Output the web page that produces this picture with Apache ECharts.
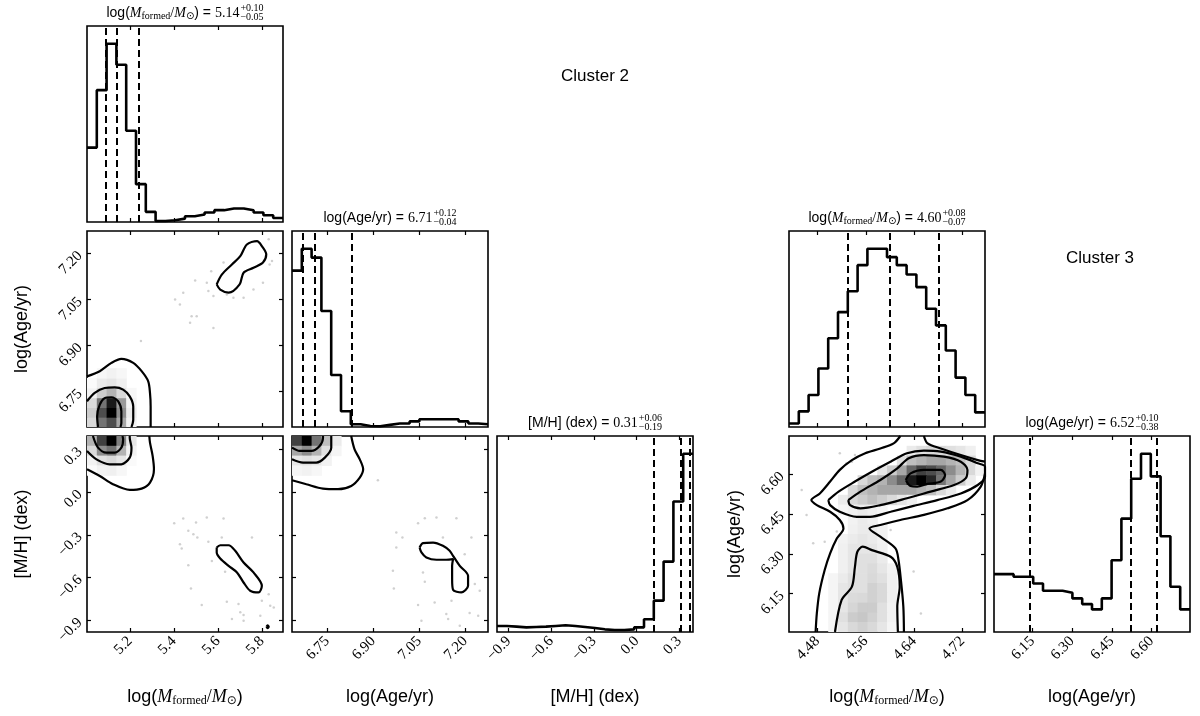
<!DOCTYPE html>
<html><head><meta charset="utf-8">
<script src="https://cdn.jsdelivr.net/npm/echarts@6/dist/echarts.min.js"></script>
<style>html,body{margin:0;padding:0;background:#fff}#c{width:1200px;height:716px}</style>
</head><body><div id="c"></div>
<script>
// ---------- axis ranges & ticks ----------
const c2MassRange=[5.005,5.895];
const c2AgeRange=[6.635,7.274];
const c2MetRange=[-0.982,0.396];
const c3MassRange=[4.433,4.757];
const c3AgeRange=[6.005,6.745];

const c2MassTicks=[5.2,5.4,5.6,5.8];
const c2AgeTicks=[6.75,6.90,7.05,7.20];
const c2MetTicks=[-0.9,-0.6,-0.3,0.0,0.3];
const c3MassTicks=[4.48,4.56,4.64,4.72];
const c3AgeTicks=[6.15,6.30,6.45,6.60];

// ---------- 1D histograms (20 bins over the axis range) ----------
const c2MassHist=[220,390,527,465,270,112,30,3,5,10,17,22,28,35,40,40,35,28,20,12];
const c2AgeHist=[445,507,482,330,148,45,8,3,2,6,10,10,16,22,22,22,22,16,10,8];
const c2MetHist=[18,16,14,15,16,18,20,18,15,12,8,6,6,8,14,38,94,211,391,534];
const c3MassHist=[10,45,92,168,255,330,390,465,512,512,488,465,438,402,340,292,220,142,92,42];
const c3AgeHist=[174,174,166,166,146,124,124,118,101,84,68,101,216,341,461,536,468,288,136,68];

// quantiles (16, 50, 84)
const c2MassQ=[5.09,5.14,5.24];
const c2AgeQ=[6.67,6.71,6.83];
const c2MetQ=[0.12,0.31,0.37];
const c3MassQ=[4.53,4.60,4.68];
const c3AgeQ=[6.14,6.52,6.62];

// title numbers
const c2MassTitle=['5.14','+0.10','\u22120.05'];
const c2AgeTitle=['6.71','+0.12','\u22120.04'];
const c2MetTitle=['0.31','+0.06','\u22120.19'];
const c3MassTitle=['4.60','+0.08','\u22120.07'];
const c3AgeTitle=['6.52','+0.10','\u22120.38'];

// ---------- 2D histogram shading: [rowIndex, firstColIndex, darkness...] ----------
const c2MassAgeHeat=[[0,0,[0.15,0.55,0.7,0.35,0.05]],[1,0,[0.2,0.7,1.0,0.45,0.08]],[2,0,[0.15,0.55,0.9,0.4,0.05]],[3,0,[0.05,0.2,0.3,0.15,0.03]],[4,0,[0.02,0.08,0.1,0.06]],[5,0,[0,0.03,0.05,0.03]]];
const c2MassMetHeat=[[19,0,[0.3,0.75,1.0,0.5,0.1]],[18,0,[0.15,0.45,0.55,0.3,0.05]],[17,0,[0.05,0.12,0.15,0.1,0.02]],[16,0,[0.02,0.05,0.06,0.03]]];
const c2AgeMetHeat=[[19,0,[0.75,1.0,0.55,0.25,0.08]],[18,0,[0.35,0.45,0.3,0.12,0.04]],[17,0,[0.1,0.12,0.1,0.05]],[16,0,[0.04,0.05,0.03]]];
const c3MassAgeHeat=[
 [18,12,[0.08,0.12,0.15,0.15,0.12,0.1,0.06]],
 [17,11,[0.12,0.25,0.3,0.35,0.35,0.3,0.25,0.15]],
 [16,9,[0.1,0.2,0.35,0.6,0.75,0.7,0.6,0.45,0.3,0.15,0.05]],
 [15,7,[0.15,0.25,0.3,0.45,0.6,0.9,1.0,0.85,0.55,0.35,0.2,0.08]],
 [14,6,[0.15,0.25,0.3,0.35,0.35,0.35,0.35,0.3,0.25,0.15,0.08]],
 [13,5,[0.08,0.15,0.2,0.25,0.2,0.15,0.1,0.06]],
 [12,5,[0.04,0.06,0.08,0.06,0.04]],
 [11,6,[0.05,0.08,0.06]],
 [10,6,[0.06,0.08,0.08,0.05]],
 [9,5,[0.05,0.08,0.1,0.08,0.05]],
 [8,5,[0.06,0.1,0.1,0.1,0.06]],
 [7,5,[0.06,0.1,0.12,0.12,0.08]],
 [6,5,[0.06,0.1,0.12,0.14,0.1,0.05]],
 [5,4,[0.04,0.08,0.12,0.12,0.15,0.12,0.06]],
 [4,4,[0.04,0.1,0.12,0.12,0.18,0.15,0.06]],
 [3,4,[0.04,0.1,0.14,0.15,0.18,0.15,0.06]],
 [2,4,[0.04,0.1,0.16,0.2,0.2,0.12,0.05]],
 [1,4,[0.04,0.12,0.2,0.22,0.18,0.12,0.05]],
 [0,4,[0.04,0.1,0.15,0.18,0.15,0.1,0.04]]
];

// ---------- sparse samples ----------
const c2MassAgePts=[[5.496,7.113],[5.549,7.105],[5.569,7.143],[5.556,7.078],[5.579,7.062],[5.625,7.171],[5.640,7.067],[5.670,7.056],[5.716,7.056],[5.761,7.083],[5.804,7.105],[5.834,7.165],[5.845,7.176],[5.830,7.247],[5.405,7.051],[5.427,7.034],[5.442,7.073],[5.480,6.996],[5.503,6.996],[5.473,6.975],[5.579,6.958],[5.250,6.915]];
const c2MassMetPts=[[5.401,-0.217],[5.442,-0.184],[5.500,-0.212],[5.549,-0.177],[5.625,-0.184],[5.465,-0.271],[5.488,-0.294],[5.506,-0.318],[5.556,-0.348],[5.617,-0.318],[5.754,-0.318],[5.427,-0.365],[5.435,-0.395],[5.465,-0.512],[5.572,-0.482],[5.632,-0.559],[5.477,-0.676],[5.526,-0.793],[5.640,-0.769],[5.693,-0.786],[5.701,-0.844],[5.716,-0.863],[5.799,-0.762],[5.830,-0.716],[5.837,-0.797],[5.853,-0.809],[5.663,-0.891],[5.716,-0.903],[5.792,-0.868]];
const c2AgeMetPts=[[6.915,0.085],[6.975,-0.283],[6.995,-0.318],[6.975,-0.388],[7.046,-0.217],[7.068,-0.182],[7.106,-0.177],[7.171,-0.182],[7.127,-0.318],[7.220,-0.318],[7.198,-0.435],[7.062,-0.563],[6.964,-0.552],[7.068,-0.629],[6.967,-0.676],[7.231,-0.645],[7.247,-0.692],[7.046,-0.793],[7.100,-0.774],[7.155,-0.762],[7.138,-0.856],[7.214,-0.849],[7.242,-0.868],[7.057,-0.903],[7.144,-0.891],[7.182,-0.938]];
const c3MassAgePts=[[4.517,6.680],[4.542,6.673],[4.528,6.642],[4.537,6.648],[4.454,6.541],[4.462,6.447],[4.473,6.340],[4.492,6.346],[4.601,6.390],[4.639,6.233],[4.651,6.075],[4.512,6.384]];

// ---------- contour lines ----------
const c2MassAgeContours=[
 [[5.005,6.800],[5.063,6.817],[5.116,6.844],[5.161,6.857],[5.215,6.844],[5.253,6.817],[5.283,6.784],[5.291,6.746],[5.294,6.702],[5.294,6.635]],
 [[5.005,6.719],[5.040,6.746],[5.085,6.762],[5.131,6.764],[5.169,6.757],[5.199,6.735],[5.215,6.702],[5.215,6.659],[5.207,6.635]],
 [[5.055,6.635],[5.051,6.670],[5.063,6.708],[5.085,6.729],[5.116,6.732],[5.146,6.719],[5.161,6.686],[5.161,6.648],[5.157,6.635]],
 [[5.594,7.100],[5.617,7.132],[5.663,7.165],[5.701,7.192],[5.731,7.230],[5.777,7.241],[5.799,7.225],[5.819,7.198],[5.804,7.171],[5.761,7.154],[5.716,7.138],[5.698,7.100],[5.648,7.073],[5.610,7.083],[5.594,7.100]]
];
const c2MassMetContours=[
 [[5.005,0.162],[5.063,0.115],[5.123,0.057],[5.199,0.017],[5.253,0.026],[5.291,0.068],[5.309,0.162],[5.303,0.256],[5.291,0.349],[5.288,0.396]],
 [[5.005,0.291],[5.048,0.232],[5.108,0.197],[5.161,0.197],[5.199,0.244],[5.207,0.314],[5.199,0.384],[5.199,0.396]],
 [[5.032,0.396],[5.055,0.314],[5.093,0.279],[5.131,0.279],[5.161,0.314],[5.169,0.373],[5.166,0.396]],
 [[5.594,-0.388],[5.610,-0.372],[5.648,-0.372],[5.678,-0.411],[5.716,-0.493],[5.761,-0.563],[5.799,-0.657],[5.784,-0.704],[5.746,-0.692],[5.716,-0.634],[5.686,-0.563],[5.648,-0.517],[5.610,-0.465],[5.594,-0.423],[5.594,-0.388]],
 [[5.820,-0.945],[5.825,-0.935],[5.830,-0.945],[5.825,-0.955],[5.820,-0.945]]
];
const c2AgeMetContours=[
 [[6.635,0.085],[6.682,0.057],[6.736,0.026],[6.785,0.022],[6.828,0.045],[6.856,0.104],[6.867,0.162],[6.856,0.232],[6.839,0.302],[6.828,0.396]],
 [[6.635,0.232],[6.671,0.209],[6.714,0.209],[6.742,0.244],[6.763,0.314],[6.763,0.396]],
 [[6.635,0.314],[6.660,0.291],[6.698,0.291],[6.725,0.326],[6.736,0.384],[6.736,0.396]],
 [[7.051,-0.388],[7.062,-0.357],[7.095,-0.353],[7.127,-0.376],[7.149,-0.411],[7.160,-0.446],[7.182,-0.517],[7.209,-0.587],[7.209,-0.657],[7.187,-0.704],[7.160,-0.685],[7.157,-0.610],[7.157,-0.517],[7.160,-0.470],[7.138,-0.474],[7.106,-0.474],[7.073,-0.458],[7.057,-0.423],[7.051,-0.388]]
];
const c3MassAgeContours=[
 [[4.617,6.745],[4.606,6.717],[4.584,6.698],[4.559,6.680],[4.537,6.654],[4.517,6.617],[4.501,6.573],[4.484,6.528],[4.470,6.503],[4.479,6.484],[4.501,6.459],[4.517,6.428],[4.523,6.396],[4.512,6.358],[4.501,6.302],[4.492,6.239],[4.483,6.151],[4.479,6.075],[4.477,6.005]],
 [[4.623,6.005],[4.622,6.101],[4.618,6.201],[4.614,6.277],[4.609,6.321],[4.584,6.365],[4.566,6.396],[4.584,6.409],[4.617,6.428],[4.656,6.447],[4.695,6.472],[4.728,6.503],[4.750,6.554],[4.757,6.604]],
 [[4.757,6.648],[4.745,6.654],[4.717,6.673],[4.684,6.698],[4.662,6.717],[4.656,6.745]],
 [[4.498,6.503],[4.515,6.535],[4.542,6.573],[4.570,6.610],[4.601,6.648],[4.628,6.680],[4.656,6.690],[4.684,6.686],[4.717,6.667],[4.745,6.642],[4.757,6.629],[4.757,6.591],[4.745,6.560],[4.717,6.528],[4.678,6.503],[4.639,6.481],[4.601,6.459],[4.567,6.440],[4.545,6.440],[4.517,6.459],[4.501,6.484],[4.498,6.503]],
 [[4.531,6.503],[4.551,6.535],[4.584,6.579],[4.612,6.623],[4.631,6.661],[4.656,6.673],[4.689,6.667],[4.717,6.648],[4.728,6.617],[4.725,6.585],[4.706,6.560],[4.667,6.535],[4.628,6.510],[4.584,6.484],[4.551,6.472],[4.534,6.484],[4.531,6.503]],
 [[4.626,6.579],[4.634,6.604],[4.656,6.617],[4.684,6.617],[4.691,6.598],[4.684,6.573],[4.662,6.564],[4.645,6.554],[4.634,6.556],[4.626,6.579]],
 [[4.509,6.005],[4.520,6.126],[4.537,6.176],[4.542,6.251],[4.546,6.308],[4.555,6.327],[4.570,6.314],[4.601,6.289],[4.612,6.251],[4.616,6.176],[4.612,6.101],[4.613,6.005]]
];

// ---------- styling ----------
const sans="'Liberation Sans', Arial, sans-serif";
const serif="'Liberation Serif', 'Times New Roman', serif";
const sym="'DejaVu Sans', sans-serif";
const S=196;
const axes={
 c2m:{range:c2MassRange,ticks:c2MassTicks,dec:1,label:'mass'},
 c2a:{range:c2AgeRange,ticks:c2AgeTicks,dec:2,label:'age'},
 c2z:{range:c2MetRange,ticks:c2MetTicks,dec:1,label:'met'},
 c3m:{range:c3MassRange,ticks:c3MassTicks,dec:2,label:'mass'},
 c3a:{range:c3AgeRange,ticks:c3AgeTicks,dec:2,label:'age'}
};
const panels=[
 {left:87,top:26,x:'c2m',hist:c2MassHist,q:c2MassQ,title:c2MassTitle,xl:false},
 {left:87,top:231,x:'c2m',y:'c2a',xl:false,yl:true,heat:c2MassAgeHeat,pts:c2MassAgePts,cont:c2MassAgeContours},
 {left:292,top:231,x:'c2a',hist:c2AgeHist,q:c2AgeQ,title:c2AgeTitle,xl:false},
 {left:87,top:436,x:'c2m',y:'c2z',xl:true,yl:true,heat:c2MassMetHeat,pts:c2MassMetPts,cont:c2MassMetContours},
 {left:292,top:436,x:'c2a',y:'c2z',xl:true,yl:false,heat:c2AgeMetHeat,pts:c2AgeMetPts,cont:c2AgeMetContours},
 {left:497,top:436,x:'c2z',hist:c2MetHist,q:c2MetQ,title:c2MetTitle,xl:true},
 {left:789,top:231,x:'c3m',hist:c3MassHist,q:c3MassQ,title:c3MassTitle,xl:false},
 {left:789,top:436,x:'c3m',y:'c3a',xl:true,yl:true,heat:c3MassAgeHeat,pts:c3MassAgePts,cont:c3MassAgeContours},
 {left:994,top:436,x:'c3a',hist:c3AgeHist,q:c3AgeQ,title:c3AgeTitle,xl:true}
];

function fmt(v,dec){return Number(v).toFixed(dec).replace('-','\u2212');}
function mkAxis(gi,a,pos,showLabel){
  return {gridIndex:gi,type:'value',position:pos,min:a.range[0],max:a.range[1],
    axisLine:{show:false,onZero:false},splitLine:{show:false},
    axisTick:{show:true,inside:true,length:4,customValues:a.ticks,lineStyle:{color:'#000',width:1.2}},
    axisLabel:{show:showLabel,customValues:a.ticks,rotate:45,margin:7,
      formatter:v=>fmt(v,a.dec),fontFamily:serif,fontSize:15,color:'#000'}};
}
function stepData(range,counts){
  const n=counts.length,w=(range[1]-range[0])/n,d=[];
  counts.forEach((c,i)=>{d.push([range[0]+i*w,c]);d.push([range[0]+(i+1)*w,c]);});
  return d;
}

const grid=[],xAxis=[],yAxis=[],series=[];
panels.forEach((p,i)=>{
  grid.push({left:p.left,top:p.top,width:S,height:S,show:true,borderColor:'#000',borderWidth:1.6,backgroundColor:'#fff'});
  const xa=axes[p.x];
  const xi=xAxis.length;
  xAxis.push(mkAxis(i,xa,'bottom',p.xl));
  xAxis.push(mkAxis(i,xa,'top',false));
  const yi=yAxis.length;
  if(p.hist){
    yAxis.push({gridIndex:i,type:'value',min:0,max:Math.max(...p.hist)*1.1,show:false,axisLine:{onZero:false}});
    series.push({type:'line',xAxisIndex:xi,yAxisIndex:yi,data:stepData(xa.range,p.hist),
      symbol:'none',showSymbol:false,lineStyle:{color:'#000',width:2.6},silent:true,z:3,
      markLine:{silent:true,symbol:['none','none'],label:{show:false},animation:false,
        lineStyle:{color:'#000',width:2,type:[7,4]},data:p.q.map(v=>({xAxis:v}))}});
  } else {
    const ya=axes[p.y];
    yAxis.push(mkAxis(i,ya,'left',p.yl));
    yAxis.push(mkAxis(i,ya,'right',false));
    const nb=20,dx=(xa.range[1]-xa.range[0])/nb,dy=(ya.range[1]-ya.range[0])/nb;
    const cells=[];
    p.heat.forEach(([j,i0,vals])=>vals.forEach((v,k)=>{if(v>0)cells.push([xa.range[0]+(i0+k)*dx,ya.range[0]+j*dy,v]);}));
    series.push({type:'custom',xAxisIndex:xi,yAxisIndex:yi,data:cells,clip:true,silent:true,z:1,
      renderItem:(params,api)=>{
        const x0=api.value(0),y0=api.value(1),v=api.value(2);
        const p1=api.coord([x0,y0+dy]),p2=api.coord([x0+dx,y0]);
        const g=Math.round(255*(1-v));
        return {type:'rect',shape:{x:p1[0],y:p1[1],width:p2[0]-p1[0]+0.6,height:p2[1]-p1[1]+0.6},
          style:{fill:'rgb('+g+','+g+','+g+')'}};
      }});
    series.push({type:'scatter',xAxisIndex:xi,yAxisIndex:yi,data:p.pts,symbolSize:2.5,
      itemStyle:{color:'#c4c4c4'},silent:true,z:2});
    p.cont.forEach(c=>series.push({type:'line',xAxisIndex:xi,yAxisIndex:yi,data:c,symbol:'none',
      showSymbol:false,smooth:0.3,lineStyle:{color:'#000',width:2.2},silent:true,z:3}));
  }
});

// ---------- text (titles, axis names) ----------
const ctx=document.createElement('canvas').getContext('2d');
function tw(t,font){ctx.font=font;return ctx.measureText(t).width;}
function mathLine(segs,cx,cy,script){
  const els=[];let total=0;
  segs.forEach(s=>{s.w=tw(s.t,s.font);total+=s.w;});
  let sw=0;
  if(script){sw=Math.max(tw(script.sup,script.font),tw(script.sub,script.font))+1;total+=sw;}
  let x=cx-total/2;
  segs.forEach(s=>{els.push({type:'text',x:x,y:cy+(s.dy||0),silent:true,
    style:{text:s.t,font:s.font,fill:'#000',textAlign:'left',textVerticalAlign:'middle'}});x+=s.w;});
  if(script){
    x+=1;
    els.push({type:'text',x:x,y:cy-script.off,silent:true,style:{text:script.sup,font:script.font,fill:'#000',textAlign:'left',textVerticalAlign:'middle'}});
    els.push({type:'text',x:x,y:cy+script.off,silent:true,style:{text:script.sub,font:script.font,fill:'#000',textAlign:'left',textVerticalAlign:'middle'}});
  }
  return els;
}
function labelSegs(kind,f,fs,sdy){
  if(kind==='mass') return [
    {t:'log(',font:f+'px '+sans},{t:'M',font:'italic '+f+'px '+serif},
    {t:'formed',font:fs+'px '+serif,dy:sdy},{t:'/',font:f+'px '+serif},
    {t:'M',font:'italic '+f+'px '+serif},{t:'\u2299',font:fs+'px '+sym,dy:sdy},{t:')',font:f+'px '+sans}];
  if(kind==='age') return [{t:'log(Age/yr)',font:f+'px '+sans}];
  return [{t:'[M/H] (dex)',font:f+'px '+sans}];
}
const graphic=[];
panels.forEach(p=>{
  const cx=p.left+S/2;
  if(p.title){
    const segs=labelSegs(axes[p.x].label,14,10,3);
    segs.push({t:' = ',font:'14px '+sans});
    segs.push({t:p.title[0],font:'14px '+serif});
    graphic.push(...mathLine(segs,cx,p.top-13,{sup:p.title[1],sub:p.title[2],font:'10px '+serif,off:4.5}));
  }
  if(p.xl){
    graphic.push(...mathLine(labelSegs(axes[p.x].label,18,12,4),cx,697));
  }
  if(p.yl){
    const lx=p.left<500?22:735;
    graphic.push({type:'text',x:lx,y:p.top+S/2,rotation:Math.PI/2,silent:true,
      style:{text:labelSegs(axes[p.y].label,18,12,4)[0].t,font:'18px '+sans,fill:'#000',textAlign:'center',textVerticalAlign:'middle'}});
  }
});
graphic.push({type:'text',x:595,y:76,silent:true,style:{text:'Cluster 2',font:'17px '+sans,fill:'#000',textAlign:'center',textVerticalAlign:'middle'}});
graphic.push({type:'text',x:1100,y:258,silent:true,style:{text:'Cluster 3',font:'17px '+sans,fill:'#000',textAlign:'center',textVerticalAlign:'middle'}});

const chart=echarts.init(document.getElementById('c'),null,{renderer:'canvas'});
chart.setOption({animation:false,backgroundColor:'#fff',grid,xAxis,yAxis,series,graphic});
</script></body></html>
